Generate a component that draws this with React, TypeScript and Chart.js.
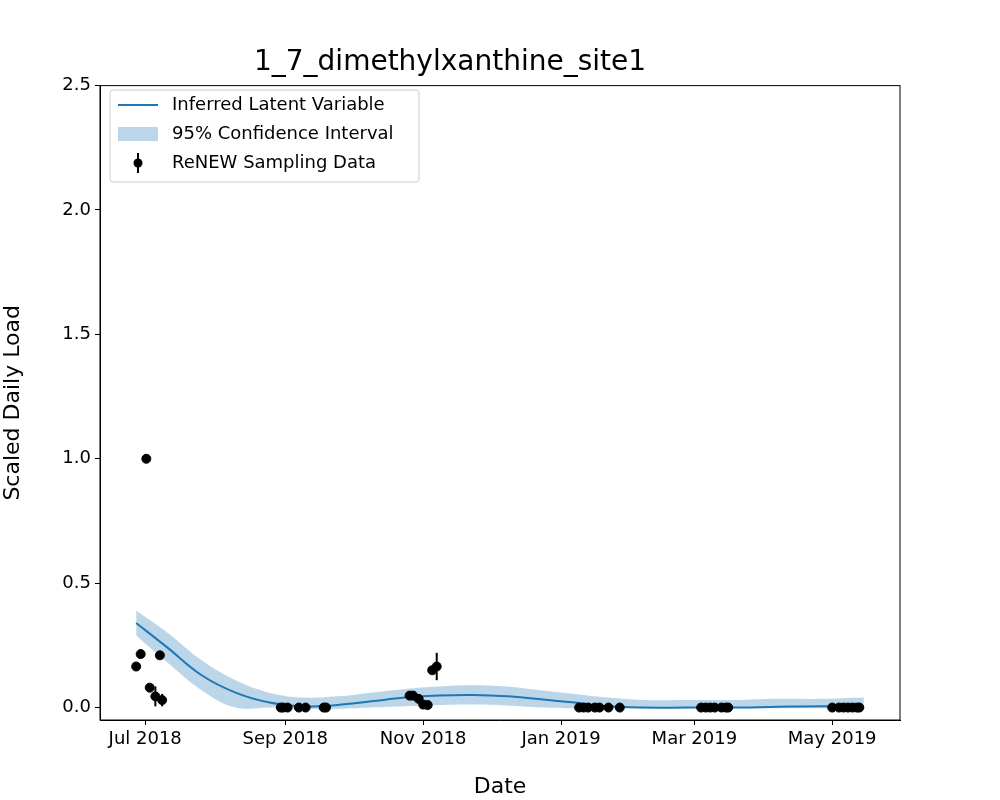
import React, { useEffect, useRef } from "react";
import { Chart, registerables } from "chart.js";
Chart.register(...registerables);

const tickDays = [0, 62, 123, 184, 243, 304];
const tickLabels = ["Jul 2018", "Sep 2018", "Nov 2018", "Jan 2019", "Mar 2019", "May 2019"];

const pointDays = [-4, -2, 0.5, 2, 4.5, 6.5, 7.5, 60, 61, 63, 68, 71, 79, 80, 117, 118.5, 121, 123, 125, 127, 129,
  192, 194, 196, 199, 201, 205, 210, 246, 248, 250, 252, 255, 257, 258, 304, 307, 309, 311, 313, 315, 316];
const pointVals = [0.165, 0.215, 1.0, 0.08, 0.045, 0.21, 0.03, 0, 0, 0, 0, 0, 0, 0, 0.048, 0.048, 0.035, 0.012, 0.01, 0.15, 0.165,
  0, 0, 0, 0, 0, 0, 0, 0, 0, 0, 0, 0, 0, 0, 0, 0, 0, 0, 0, 0, 0];
const pointErrs = [0, 0, 0, 0.015, 0.04, 0, 0.025, 0, 0, 0, 0, 0, 0, 0, 0, 0, 0, 0, 0, 0, 0.055,
  0, 0, 0, 0, 0, 0, 0, 0, 0, 0, 0, 0, 0, 0, 0, 0, 0, 0, 0, 0, 0];

const curveDays = [-4, 10, 25, 40, 55, 70, 85, 100, 115, 130, 145, 160, 175, 190, 205, 220, 240, 260, 280, 300, 318];
const curveMean = [0.34, 0.24, 0.13, 0.06, 0.02, 0.005, 0.01, 0.025, 0.04, 0.048, 0.05, 0.045, 0.033, 0.02, 0.005, 0.0, 0.0, 0.0, 0.003, 0.005, 0.003];
const curveUpper = [0.39, 0.3, 0.19, 0.11, 0.06, 0.04, 0.045, 0.06, 0.075, 0.085, 0.09, 0.085, 0.07, 0.055, 0.04, 0.03, 0.03, 0.03, 0.035, 0.035, 0.04];
const curveLower = [0.29, 0.18, 0.07, 0.0, 0.0, -0.005, -0.005, 0, 0.005, 0.01, 0.012, 0.008, 0.0, -0.003, -0.003, -0.003, -0.003, -0.003, -0.003, -0.003, -0.003];

const FONT = "'DejaVu Sans', sans-serif";

export default function App() {
  const ref = useRef<HTMLCanvasElement>(null);
  useEffect(() => {
    document.body.style.margin = "0";
    const xy = (xs: number[], ys: number[]) => xs.map((x, i) => ({ x, y: ys[i] }));
    const errPlugin = {
      id: "extras",
      afterDatasetsDraw(chart: any) {
        const { ctx, scales, chartArea } = chart;
        const xs = scales.x, ys = scales.y;
        ctx.save();
        ctx.strokeStyle = "#000";
        ctx.lineWidth = 1;
        ctx.strokeRect(chartArea.left, chartArea.top, chartArea.right - chartArea.left, chartArea.bottom - chartArea.top);
        ctx.lineWidth = 2;
        pointDays.forEach((d, i) => {
          if (pointErrs[i] > 0) {
            const px = xs.getPixelForValue(d);
            ctx.beginPath();
            ctx.moveTo(px, ys.getPixelForValue(pointVals[i] - pointErrs[i]));
            ctx.lineTo(px, ys.getPixelForValue(pointVals[i] + pointErrs[i]));
            ctx.stroke();
          }
        });
        // legend
        const lx = 110, ly = 90, w = 309, h = 92;
        ctx.fillStyle = "rgba(255,255,255,0.8)";
        ctx.strokeStyle = "#ccc";
        ctx.lineWidth = 1;
        ctx.beginPath();
        ctx.roundRect(lx, ly, w, h, 3);
        ctx.fill();
        ctx.stroke();
        ctx.font = "18px " + FONT;
        ctx.textBaseline = "middle";
        ctx.fillStyle = "#000";
        const rows = [105, 134, 163];
        ctx.strokeStyle = "#1f77b4";
        ctx.lineWidth = 2;
        ctx.beginPath(); ctx.moveTo(118, rows[0]); ctx.lineTo(158, rows[0]); ctx.stroke();
        ctx.fillStyle = "rgba(31,119,180,0.3)";
        ctx.fillRect(118, rows[1] - 7, 40, 14);
        ctx.fillStyle = "#000";
        ctx.beginPath(); ctx.arc(138, rows[2], 4.5, 0, Math.PI * 2); ctx.fill();
        ctx.strokeStyle = "#000";
        ctx.beginPath(); ctx.moveTo(138, rows[2] - 10); ctx.lineTo(138, rows[2] + 10); ctx.stroke();
        ["Inferred Latent Variable", "95% Confidence Interval", "ReNEW Sampling Data"].forEach((t, i) => ctx.fillText(t, 172, rows[i]));
        ctx.restore();
      },
    };
    const chart = new Chart(ref.current!, {
      type: "scatter",
      data: {
        datasets: [
          { type: "line", data: xy(curveDays, curveUpper), borderWidth: 0, pointRadius: 0, backgroundColor: "rgba(31,119,180,0.3)", fill: "+1", tension: 0.4, order: 3 } as any,
          { type: "line", data: xy(curveDays, curveLower), borderWidth: 0, pointRadius: 0, fill: false, tension: 0.4, order: 3 } as any,
          { type: "line", data: xy(curveDays, curveMean), borderColor: "#1f77b4", borderWidth: 2, pointRadius: 0, fill: false, tension: 0.4, order: 2 } as any,
          { data: xy(pointDays, pointVals), backgroundColor: "#000", borderColor: "#000", pointRadius: 4.5, order: 1 },
        ],
      },
      options: {
        animation: false,
        responsive: false,
        layout: { padding: { top: 46, right: 100, bottom: 0, left: 0 } },
        plugins: {
          legend: { display: false },
          tooltip: { enabled: false },
          title: { display: true, text: "1_7_dimethylxanthine_site1", font: { size: 28, family: FONT, weight: "normal" }, color: "#000", padding: { top: 0, bottom: 6 } },
          filler: { propagate: false },
        },
        scales: {
          x: {
            type: "linear", min: -20, max: 334,
            grid: { display: true, drawOnChartArea: false, color: "#000", tickLength: 5 },
            border: { color: "#000" },
            afterFit: (s: any) => { s.height = 80; },
            afterBuildTicks: (s: any) => { s.ticks = tickDays.map((v) => ({ value: v })); },
            ticks: { color: "#000", padding: 4, font: { size: 18, family: FONT }, callback: (v: any) => tickLabels[tickDays.indexOf(v)] ?? "" },
            title: { display: true, text: "Date", color: "#000", padding: { top: 0, bottom: 0 }, font: { size: 22, family: FONT } },
          },
          y: {
            min: -0.05, max: 2.5,
            grid: { display: true, drawOnChartArea: false, color: "#000", tickLength: 5 },
            border: { color: "#000" },
            afterFit: (s: any) => { s.width = 100; },
            afterBuildTicks: (s: any) => { s.ticks = [0, 0.5, 1, 1.5, 2, 2.5].map((v) => ({ value: v })); },
            ticks: { color: "#000", padding: 4, font: { size: 18, family: FONT }, callback: (v: any) => Number(v).toFixed(1) },
            title: { display: true, text: "Scaled Daily Load", color: "#000", padding: { top: 0, bottom: 6 }, font: { size: 22, family: FONT } },
          },
        },
      },
      plugins: [errPlugin],
    });
    return () => chart.destroy();
  }, []);
  return <canvas ref={ref} width={1000} height={800} style={{ display: "block" }} />;
}
